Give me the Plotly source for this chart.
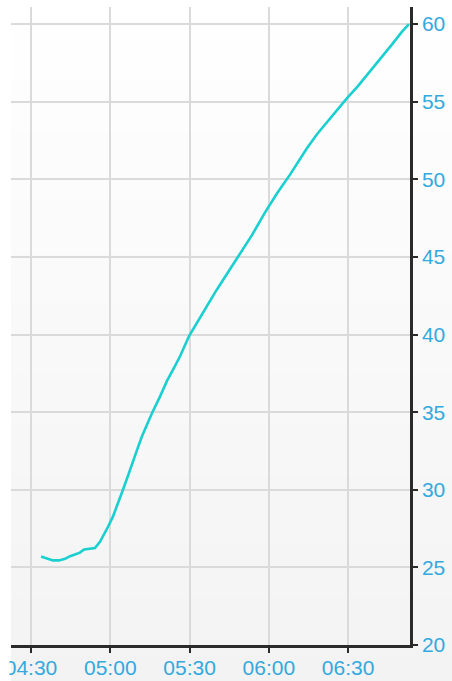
import plotly.graph_objects as go

# Data
day = "2024-01-01 "
times = ["04:33:48", "04:36:06", "04:38:18", "04:40:36", "04:42:54", "04:44:48", "04:47:00",
         "04:48:30", "04:50:06", "04:52:18", "04:54:12", "04:56:06", "04:57:36", "04:59:06",
         "05:01:00", "05:02:54", "05:04:48", "05:06:42", "05:08:36", "05:10:30", "05:12:00",
         "05:13:54", "05:15:48", "05:18:48", "05:21:24", "05:24:06", "05:26:24", "05:29:48",
         "05:33:12", "05:36:36", "05:39:36", "05:42:36", "05:45:42", "05:49:06", "05:53:36",
         "05:58:30", "06:03:06", "06:08:00", "06:10:36", "06:14:24", "06:18:12", "06:23:54",
         "06:29:30", "06:33:42", "06:38:12", "06:42:48", "06:46:54", "06:50:18", "06:53:00"]
values = [25.70, 25.55, 25.45, 25.45, 25.55, 25.72, 25.85,
          25.95, 26.15, 26.20, 26.25, 26.65, 27.10, 27.60,
          28.27, 29.20, 30.00, 30.90, 31.90, 32.75, 33.45,
          34.25, 34.95, 36.00, 37.00, 37.85, 38.60, 39.90,
          40.90, 41.90, 42.70, 43.50, 44.30, 45.20, 46.40,
          47.85, 49.10, 50.30, 51.00, 52.00, 52.90, 54.10,
          55.21, 56.00, 56.93, 57.85, 58.76, 59.50, 60.00]

x_range = ["04:22:26", "06:53:24"]
y_range = [20, 61.1]

line_color = "#19cfcf"
label_color = "#33a9dd"
axis_color = "#2a2a2a"
grid_color = "#dadada"

fig = go.Figure()
fig.add_trace(go.Scatter(
    x=[day + t for t in times], y=values, mode="lines",
    line=dict(color=line_color, width=2.6), showlegend=False, hoverinfo="skip"))

# vertical background gradient (white -> light grey), drawn as paper-space bands
shapes = []
n = 40
y_bottom, y_top = -0.06, 1.02
top_c, bot_c = (255, 255, 255), (243, 243, 243)
for i in range(n):
    f = (i + 0.5) / n
    c = tuple(round(top_c[k] + (bot_c[k] - top_c[k]) * (1 - f)) for k in range(3))
    shapes.append(dict(type="rect", xref="paper", yref="paper", layer="below",
                       x0=0, x1=1.2,
                       y0=y_bottom + (y_top - y_bottom) * i / n,
                       y1=y_bottom + (y_top - y_bottom) * (i + 1) / n + 0.002,
                       line=dict(width=0), fillcolor="rgb(%d,%d,%d)" % c))
# white strip at the far left that clips the first time label
shapes.append(dict(type="rect", xref="paper", yref="paper", layer="above",
                   x0=-0.1, x1=-0.004, y0=-0.1, y1=1.05,
                   line=dict(width=0), fillcolor="white"))

fig.update_layout(
    width=452, height=681,
    margin=dict(l=11, r=42, t=7, b=36, autoexpand=False),
    paper_bgcolor="white",
    plot_bgcolor="rgba(0,0,0,0)",
    font=dict(family="Liberation Sans, Arial, sans-serif", size=21, color=label_color),
    shapes=shapes,
    xaxis=dict(
        type="date", range=[day + x_range[0], day + x_range[1]],
        tick0=day + "04:30:00", dtick=30 * 60 * 1000, tickformat="%H:%M",
        showgrid=True, gridcolor=grid_color, gridwidth=1.5,
        showline=True, linecolor=axis_color, linewidth=2.5,
        ticks="outside", ticklen=5, tickwidth=2, tickcolor=axis_color,
        tickfont=dict(color=label_color, size=21), zeroline=False,
        fixedrange=True, automargin=False, ticklabelstandoff=-3,
    ),
    yaxis=dict(
        side="right", range=y_range, dtick=5, tick0=0,
        showgrid=True, gridcolor=grid_color, gridwidth=1.5,
        showline=True, linecolor=axis_color, linewidth=2.5,
        ticks="outside", ticklen=5, tickwidth=2, tickcolor=axis_color,
        tickfont=dict(color=label_color, size=21), zeroline=False,
        fixedrange=True, automargin=False,
    ),
)

fig.write_html("out.html", config={"displayModeBar": False},
               post_script="document.body.style.margin='0';document.body.style.overflow='hidden';")
